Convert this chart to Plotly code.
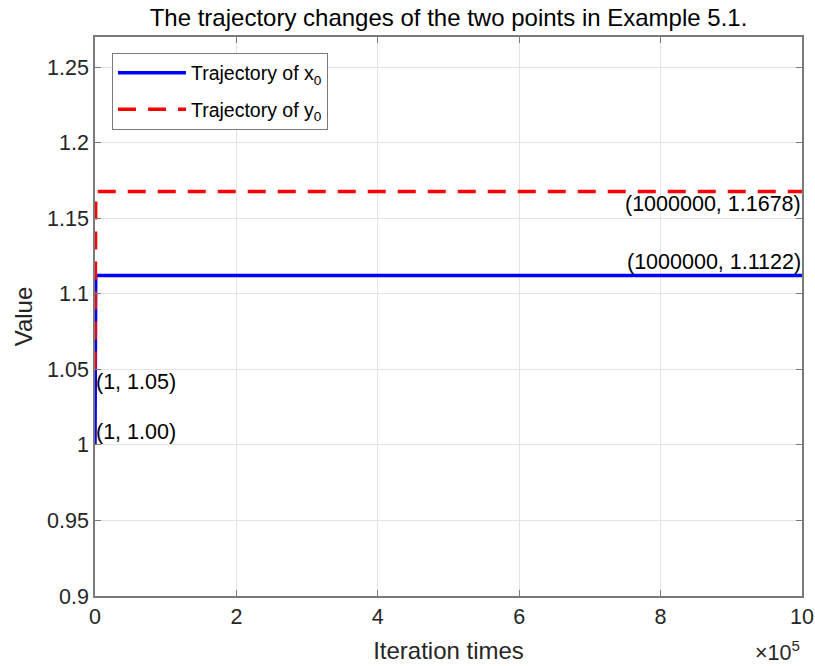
import plotly.graph_objects as go

iterations = [1, 2, 3, 5, 10, 20, 50, 100, 1000, 10000, 1000000]
x0_values = [1.00, 1.03, 1.05, 1.07, 1.085, 1.097, 1.106, 1.110, 1.1122, 1.1122, 1.1122]
y0_values = [1.05, 1.08, 1.10, 1.12, 1.14, 1.152, 1.162, 1.166, 1.1678, 1.1678, 1.1678]

x_tickvals = [0, 200000, 400000, 600000, 800000, 1000000]
x_ticktext = ["0", "2", "4", "6", "8", "10"]
y_tickvals = [0.9, 0.95, 1.0, 1.05, 1.1, 1.15, 1.2, 1.25]
y_ticktext = ["0.9", "0.95", "1", "1.05", "1.1", "1.15", "1.2", "1.25"]

FONT = "Liberation Sans, Arial, sans-serif"
TXT = "#262626"
AX = 21.5
LAB = 24
LEG = 19.5

fig = go.Figure()
fig.add_trace(go.Scatter(x=iterations, y=x0_values, mode="lines",
                         line=dict(color="#0000ff", width=3.5), legendgroup="a",
                         name="Trajectory of x<sub>0</sub>"))
fig.add_trace(go.Scatter(x=iterations, y=y0_values, mode="lines", legendgroup="b",
                         line=dict(color="#ff0000", width=3.5, dash="18px,12px"),
                         name="Trajectory of y<sub>0</sub>"))

annots = [
    dict(x=iterations[0], y=x0_values[0], text="(1, 1.00)", xanchor="left", yanchor="bottom"),
    dict(x=iterations[0], y=y0_values[0], text="(1, 1.05)", xanchor="left", yanchor="top"),
    dict(x=iterations[-1], y=x0_values[-1], text="(1000000, 1.1122)", xanchor="right", yanchor="bottom"),
    dict(x=iterations[-1], y=y0_values[-1], text="(1000000, 1.1678)", xanchor="right", yanchor="top"),
]
for a in annots:
    fig.add_annotation(x=a["x"], y=a["y"], text=a["text"], showarrow=False,
                       xanchor=a["xanchor"], yanchor=a["yanchor"],
                       font=dict(family=FONT, size=AX, color="black"),
                       borderpad=0)

fig.add_annotation(x=1, y=0, xref="paper", yref="paper", text="×10<sup>5</sup>",
                   showarrow=False, xanchor="right", yanchor="top", yshift=-39,
                   font=dict(family=FONT, size=AX, color=TXT))

axis_common = dict(showline=True, linecolor="#7a7a7a", linewidth=1.5, mirror="ticks",
                   ticks="inside", ticklen=6, tickcolor="#7a7a7a", automargin=False,
                   showgrid=True, gridcolor="#e3e3e3", gridwidth=1, zeroline=False,
                   tickfont=dict(family=FONT, size=AX, color=TXT))

fig.update_layout(
    width=815, height=666,
    margin=dict(l=95, r=13, t=37, b=70),
    paper_bgcolor="white", plot_bgcolor="white",
    title=dict(text="The trajectory changes of the two points in Example 5.1.",
               x=(95 + 802) / 2 / 815, xref="container", xanchor="center",
               y=1 - 18 / 666, yref="container", yanchor="middle",
               automargin=False,
               font=dict(family=FONT, size=LAB, color="black")),
    xaxis=dict(range=[0, 1000000], tickvals=x_tickvals, ticktext=x_ticktext,
               title=dict(text="Iteration times", font=dict(family=FONT, size=LAB, color=TXT), standoff=15),
               **axis_common),
    yaxis=dict(range=[0.9, 1.27], tickvals=y_tickvals, ticktext=y_ticktext,
               title=dict(text="Value", font=dict(family=FONT, size=LAB, color=TXT), standoff=8),
               **axis_common),
    legend=dict(x=0.024, y=0.972, xanchor="left", yanchor="top",
                bgcolor="white", bordercolor="#7a7a7a", borderwidth=1,
                font=dict(family=FONT, size=LEG, color="black"),
                itemwidth=68, tracegroupgap=8, traceorder="grouped"),
    showlegend=True,
)

fig.write_html("out.html", post_script="document.body.style.margin='0';",
               config={"displayModeBar": False})
